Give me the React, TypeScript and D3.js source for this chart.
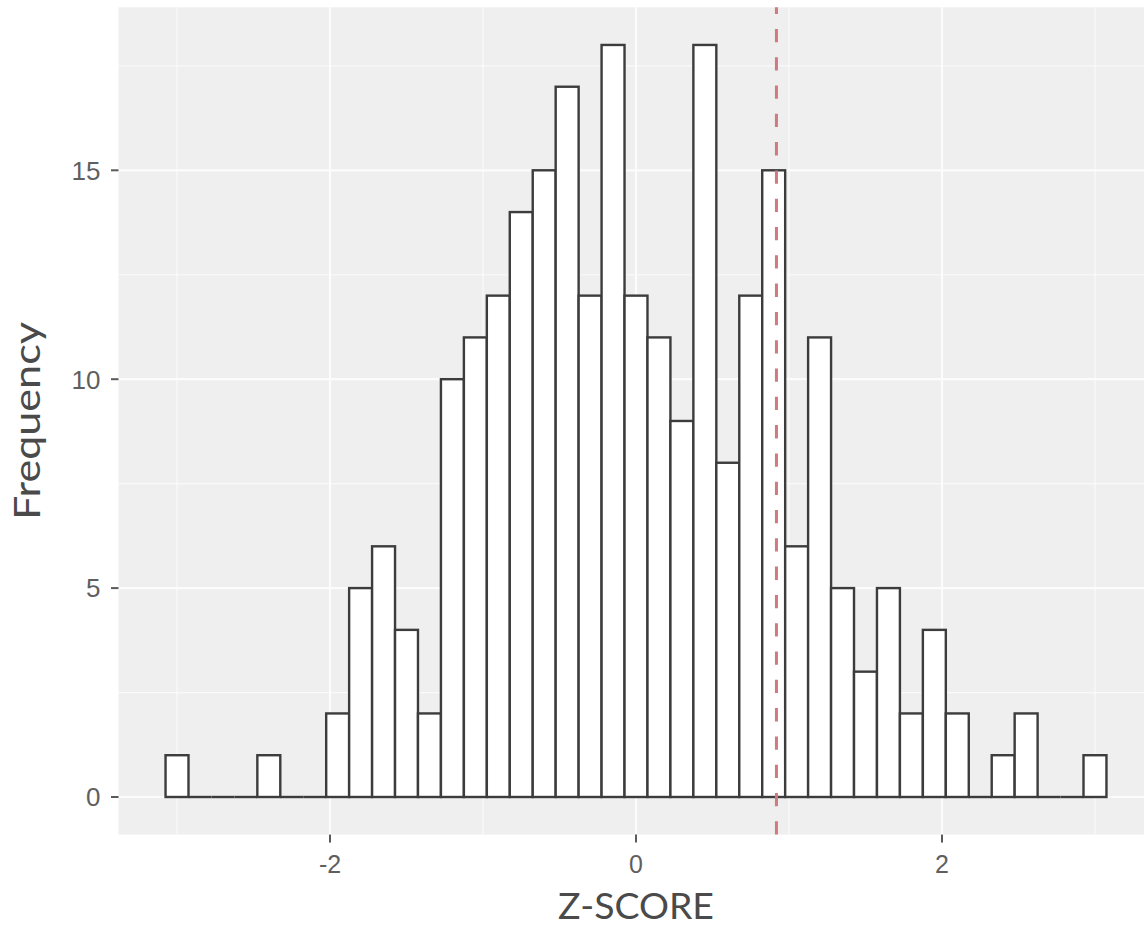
import React from "react";
import * as d3 from "d3";

const binCenters = [
  -3.0, -2.85, -2.7, -2.55, -2.4, -2.25, -2.1, -1.95, -1.8, -1.65, -1.5, -1.35,
  -1.2, -1.05, -0.9, -0.75, -0.6, -0.45, -0.3, -0.15, 0.0, 0.15, 0.3, 0.45, 0.6,
  0.75, 0.9, 1.05, 1.2, 1.35, 1.5, 1.65, 1.8, 1.95, 2.1, 2.25, 2.4, 2.55, 2.7,
  2.85, 3.0,
];
const counts = [
  1, 0, 0, 0, 1, 0, 0, 2, 5, 6, 4, 2, 10, 11, 12, 14, 15, 17, 12, 18, 12, 11, 9,
  18, 8, 12, 15, 6, 11, 5, 3, 5, 2, 4, 2, 0, 1, 2, 0, 0, 1,
];
const binWidth = 0.15;
const cutoff = 0.918;
const xMajor = [-2, 0, 2];
const xMinor = [-3, -1, 1, 3];
const yMajor = [0, 5, 10, 15];
const yMinor = [2.5, 7.5, 12.5, 17.5];
const xTitle = "Z-SCORE";
const yTitle = "Frequency";

const W = 1144;
const H = 927;
const panel = { left: 118.5, right: 1153.5, top: 7.35, bottom: 834.6 };

export default function App() {
  const xMin = binCenters[0] - binWidth / 2;
  const xMax = binCenters[binCenters.length - 1] + binWidth / 2;
  const xPad = (xMax - xMin) * 0.05;
  const yMaxV = d3.max(counts) as number;
  const yPad = yMaxV * 0.05;
  const x = d3
    .scaleLinear()
    .domain([xMin - xPad, xMax + xPad])
    .range([panel.left, panel.right]);
  const y = d3
    .scaleLinear()
    .domain([-yPad, yMaxV + yPad])
    .range([panel.bottom, panel.top]);

  const tickColor = "#5a5a5a";
  const textColor = "#5f5f5f";

  return (
    <svg
      width={W}
      height={H}
      style={{ position: "absolute", left: 0, top: 0, background: "#ffffff" }}
    >
      <rect
        x={panel.left}
        y={panel.top}
        width={panel.right - panel.left}
        height={panel.bottom - panel.top}
        fill="#efefef"
      />
      {yMinor.map((v) => (
        <line
          key={"ymi" + v}
          x1={panel.left}
          x2={panel.right}
          y1={y(v)}
          y2={y(v)}
          stroke="#fafafa"
          strokeWidth={1.2}
        />
      ))}
      {xMinor.map((v) => (
        <line
          key={"xmi" + v}
          y1={panel.top}
          y2={panel.bottom}
          x1={x(v)}
          x2={x(v)}
          stroke="#fafafa"
          strokeWidth={1.2}
        />
      ))}
      {yMajor.map((v) => (
        <line
          key={"yma" + v}
          x1={panel.left}
          x2={panel.right}
          y1={y(v)}
          y2={y(v)}
          stroke="#fcfcfc"
          strokeWidth={2.2}
        />
      ))}
      {xMajor.map((v) => (
        <line
          key={"xma" + v}
          y1={panel.top}
          y2={panel.bottom}
          x1={x(v)}
          x2={x(v)}
          stroke="#fcfcfc"
          strokeWidth={2.2}
        />
      ))}
      {counts.map((c, i) => {
        const c0 = binCenters[i] - binWidth / 2;
        const c1 = binCenters[i] + binWidth / 2;
        if (c === 0) {
          return (
            <line
              key={"b" + i}
              x1={x(c0)}
              x2={x(c1)}
              y1={y(0)}
              y2={y(0)}
              stroke="#3c3c3c"
              strokeWidth={2.4}
            />
          );
        }
        return (
          <rect
            key={"b" + i}
            x={x(c0)}
            y={y(c)}
            width={x(c1) - x(c0)}
            height={y(0) - y(c)}
            fill="#ffffff"
            stroke="#3c3c3c"
            strokeWidth={2.4}
          />
        );
      })}
      <line
        x1={x(cutoff)}
        x2={x(cutoff)}
        y1={panel.bottom}
        y2={panel.top}
        stroke="#d07a80"
        strokeWidth={3}
        strokeDasharray="13.3 15"
      />
      {yMajor.map((v) => (
        <g key={"yt" + v}>
          <line
            x1={panel.left - 7.5}
            x2={panel.left}
            y1={y(v)}
            y2={y(v)}
            stroke={tickColor}
            strokeWidth={2}
          />
          <text
            x={panel.left - 18}
            y={y(v)}
            dy="0.36em"
            textAnchor="end"
            fontFamily="Liberation Sans, Arial, sans-serif"
            fontSize={26}
            fill={textColor}
          >
            {v}
          </text>
        </g>
      ))}
      {xMajor.map((v) => (
        <g key={"xt" + v}>
          <line
            x1={x(v)}
            x2={x(v)}
            y1={panel.bottom}
            y2={panel.bottom + 8}
            stroke={tickColor}
            strokeWidth={2}
          />
          <text
            x={x(v)}
            y={873}
            textAnchor="middle"
            fontFamily="Liberation Sans, Arial, sans-serif"
            fontSize={25}
            fill={textColor}
          >
            {v < 0 ? "-" + Math.abs(v) : String(v)}
          </text>
        </g>
      ))}
      <text
        x={(panel.left + panel.right) / 2}
        y={919}
        textAnchor="middle"
        fontFamily="Lato, sans-serif"
        fontSize={36}
        fill="#4a4a4a"
        textLength={156}
        lengthAdjust="spacingAndGlyphs"
      >
        {xTitle}
      </text>
      <text
        transform={`translate(40,${(panel.top + panel.bottom) / 2}) rotate(-90)`}
        textAnchor="middle"
        fontFamily="Lato, sans-serif"
        fontSize={37}
        fill="#4a4a4a"
        textLength={198}
        lengthAdjust="spacingAndGlyphs"
      >
        {yTitle}
      </text>
    </svg>
  );
}
